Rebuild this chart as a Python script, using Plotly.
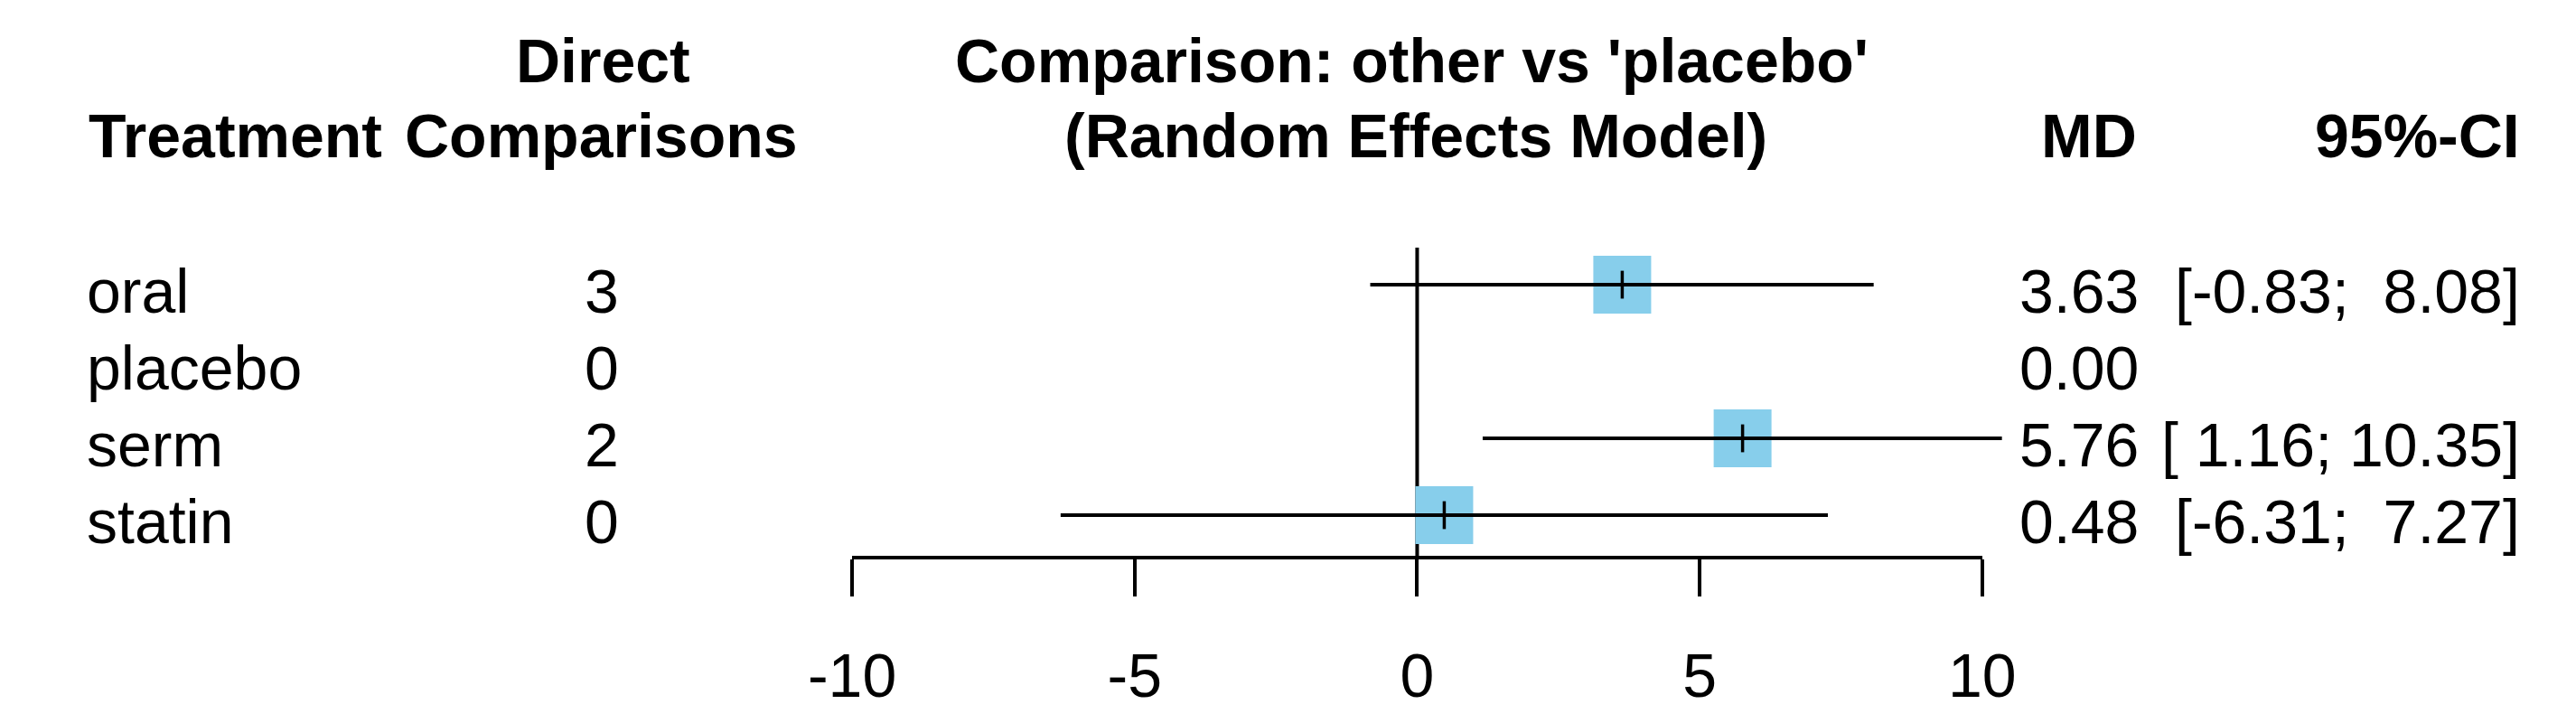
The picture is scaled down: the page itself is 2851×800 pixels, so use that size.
import plotly.graph_objects as go

# ---- data ----
treatments = ["oral", "placebo", "serm", "statin"]
n_direct = [3, 0, 2, 0]
md = [3.63, 0.00, 5.76, 0.48]
ci_lower = [-0.83, None, 1.16, -6.31]
ci_upper = [8.08, None, 10.35, 7.27]
tick_vals = [-10, -5, 0, 5, 10]
tick_text = ["-10", "-5", "0", "5", "10"]

# ---- geometry (pixels) ----
W, H = 2851, 800
X0_PX = 1559.0          # pixel of MD = 0
PPU = 64.5              # pixels per MD unit
AXIS_PX = 607.0         # pixel row of the x axis line
ROW0_PX = 307.0         # pixel row of first treatment
ROW_STEP = 85.0

def y_of(px):
    return 4 + (ROW0_PX - px) / ROW_STEP

n = len(treatments)
rows = [n - i for i in range(n)]
y_lo, y_hi = y_of(AXIS_PX), y_of(0)

FONT = "Liberation Sans, Arial, sans-serif"
FS = 68
SQ_COLOR = "#87CEEB"

fig = go.Figure()

# reference line at 0
fig.add_trace(go.Scatter(x=[0, 0], y=[y_lo, y_of(266)], mode="lines",
                         line=dict(color="black", width=4), hoverinfo="skip",
                         showlegend=False))

# squares
sq_x = [m for m, lo in zip(md, ci_lower) if lo is not None]
sq_y = [r for r, lo in zip(rows, ci_lower) if lo is not None]
fig.add_trace(go.Scatter(x=sq_x, y=sq_y, mode="markers",
                         marker=dict(symbol="square", size=64, color=SQ_COLOR,
                                     line=dict(width=0)),
                         showlegend=False, hoverinfo="skip"))

# confidence interval lines
cx, cy = [], []
for r, lo, hi in zip(rows, ci_lower, ci_upper):
    if lo is None:
        continue
    cx += [lo, hi, None]
    cy += [r, r, None]
fig.add_trace(go.Scatter(x=cx, y=cy, mode="lines",
                         line=dict(color="black", width=4),
                         showlegend=False, hoverinfo="skip"))

# small vertical ticks at the estimates
fig.add_trace(go.Scatter(x=sq_x, y=sq_y, mode="markers",
                         marker=dict(symbol="line-ns", size=22,
                                     line=dict(color="black", width=3.5)),
                         showlegend=False, hoverinfo="skip"))

# empty trace so that the axis subplot exists
fig.add_trace(go.Scatter(x=[None], y=[None], xaxis="x2", yaxis="y",
                         showlegend=False, hoverinfo="skip"))

ann = []
def add_text(text, xpx, ypx, xanchor, bold=False):
    ann.append(dict(text=("<b>%s</b>" % text) if bold else text,
                    x=xpx / W, xref="paper", y=y_of(ypx), yref="y",
                    xanchor=xanchor, yanchor="middle", showarrow=False,
                    font=dict(family=FONT, size=FS, color="black")))

# headers
add_text("Treatment", 40, 142, "left", bold=True)
add_text("Direct", 630, 59, "center", bold=True)
add_text("Comparisons", 628, 142, "center", bold=True)
add_text("Comparison: other vs 'placebo'", 1553, 59, "center", bold=True)
add_text("(Random Effects Model)", 1558, 142, "center", bold=True)
add_text("MD", 2383, 142, "right", bold=True)
add_text("95%-CI", 2820, 142, "right", bold=True)

# table rows
for t, k, m, lo, hi, r in zip(treatments, n_direct, md, ci_lower, ci_upper, rows):
    py = ROW0_PX + (4 - r) * ROW_STEP + 7
    add_text(t, 38, py, "left")
    add_text(str(k), 628, py, "center")
    add_text("%.2f" % m, 2385, py, "right")
    if lo is not None:
        s = "[%5.2f; %5.2f]" % (lo, hi)
        add_text(s.replace(" ", "\u00a0"), 2820, py, "right")

fig.update_layout(
    width=W, height=H,
    margin=dict(l=0, r=0, t=0, b=H - AXIS_PX, pad=0),
    paper_bgcolor="white", plot_bgcolor="rgba(0,0,0,0)",
    showlegend=False,
    annotations=ann,
    xaxis=dict(domain=[0, 1], range=[-X0_PX / PPU, (W - X0_PX) / PPU],
               visible=False, fixedrange=True),
    xaxis2=dict(domain=[(X0_PX - 10 * PPU) / W, (X0_PX + 10 * PPU) / W],
                range=[-10, 10], anchor="y", showline=True, linewidth=4,
                linecolor="black", ticks="outside", ticklen=41, tickwidth=4,
                tickcolor="black", tickvals=tick_vals, ticktext=tick_text,
                tickfont=dict(family=FONT, size=FS, color="black"),
                showgrid=False, zeroline=False, ticklabelstandoff=29,
                fixedrange=True),
    yaxis=dict(domain=[0, 1], range=[y_lo, y_hi], visible=False,
               fixedrange=True),
)

fig.write_html("out.html")
